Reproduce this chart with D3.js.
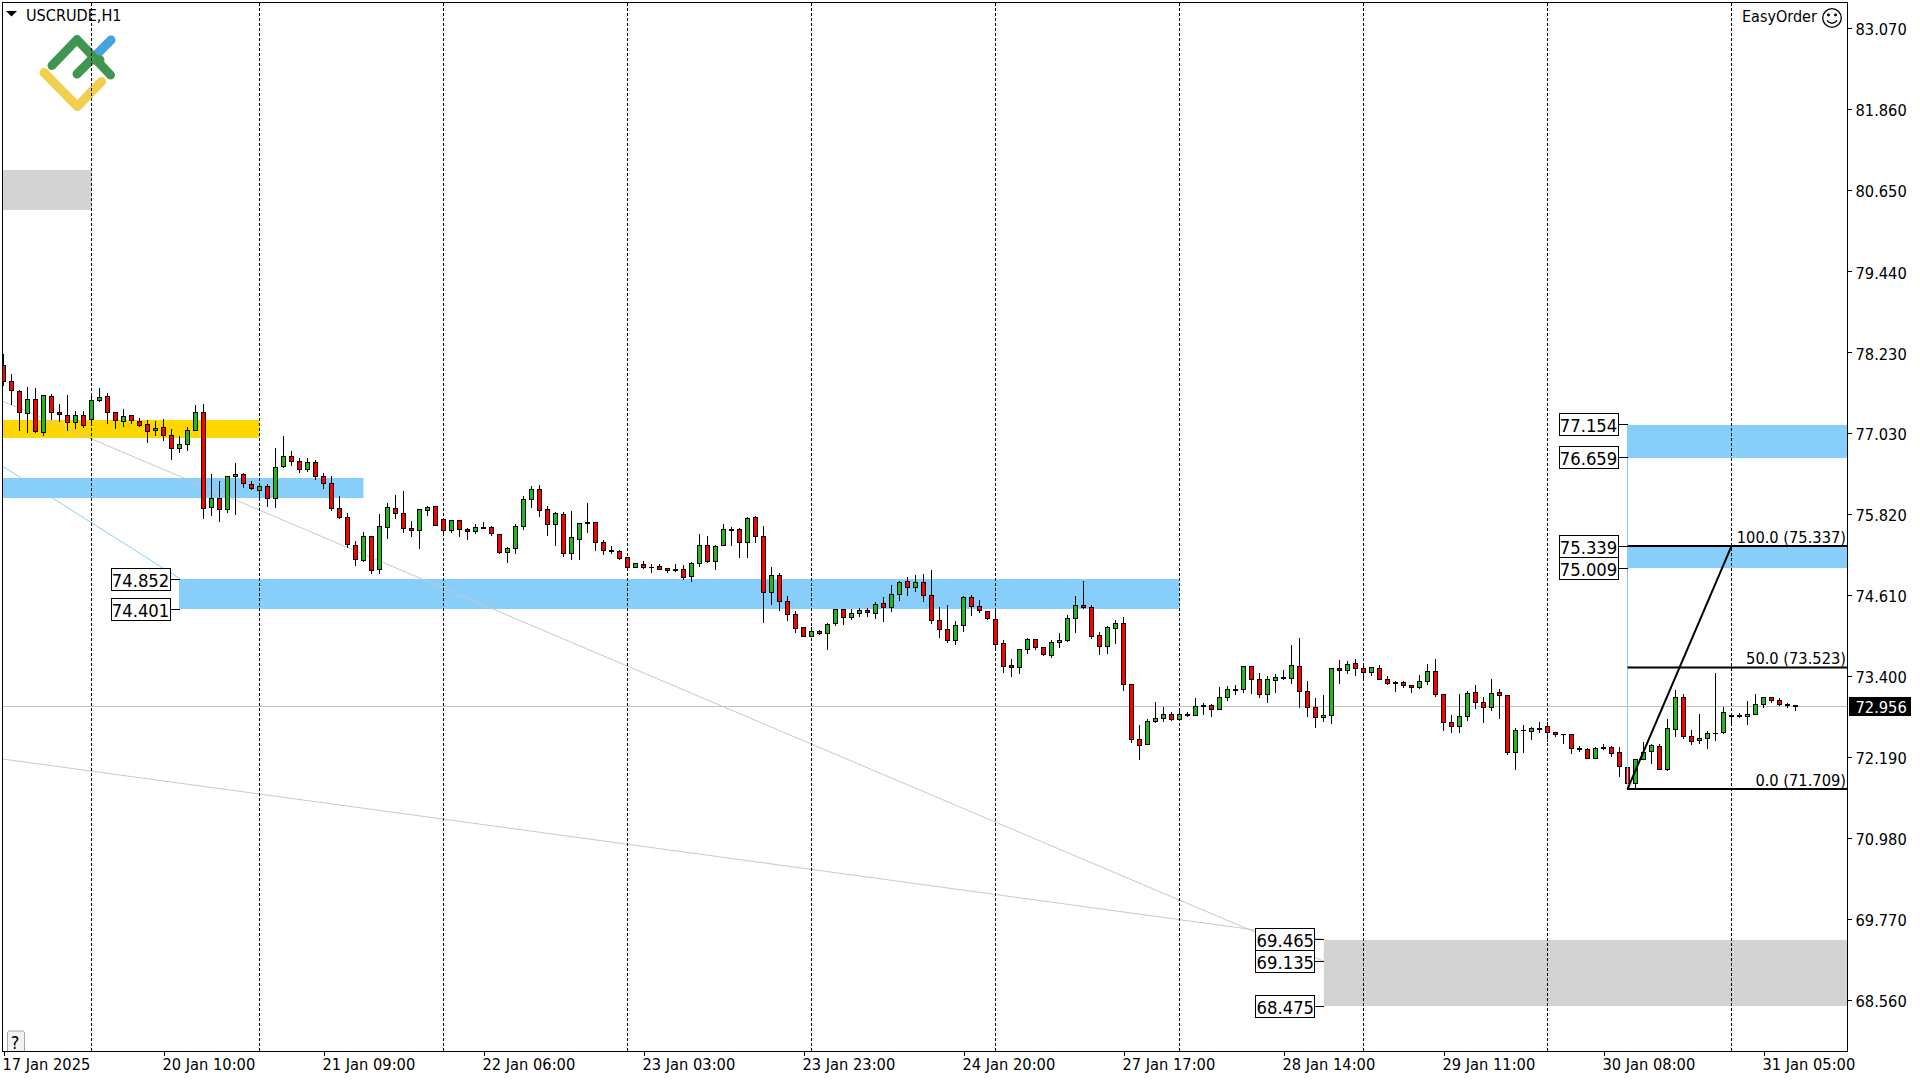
<!DOCTYPE html>
<html><head><meta charset="utf-8">
<script src="https://cdn.jsdelivr.net/npm/d3@7"></script>
<style>
html,body{margin:0;padding:0;background:#fff;overflow:hidden}
svg{display:block}
text{font-family:"DejaVu Sans Condensed","DejaVu Sans",sans-serif;font-stretch:condensed;fill:#000}
.tick text{font-family:"DejaVu Sans Condensed","DejaVu Sans",sans-serif}
</style></head><body>
<svg id="c" width="1920" height="1080"></svg>
<script>
const opens=[78.035,77.796,77.647,77.319,77.527,77.045,77.572,77.333,77.289,77.184,
77.289,77.229,77.512,77.572,77.333,77.199,77.289,77.199,77.154,77.065,
77.110,76.990,76.796,76.856,77.065,77.333,75.916,76.050,75.886,76.378,
76.408,76.259,76.169,76.229,76.050,76.527,76.677,76.602,76.483,76.587,
76.378,76.274,75.901,75.766,75.348,75.125,75.483,74.990,75.617,75.901,
75.826,75.602,75.573,75.881,75.931,75.737,75.573,75.722,75.597,75.558,
75.617,75.617,75.513,75.254,75.304,75.632,76.035,76.184,75.886,75.662,
75.811,75.229,75.438,75.692,75.692,75.393,75.274,75.259,75.170,75.020,
75.065,75.030,75.035,75.005,74.990,74.990,74.886,75.080,75.349,75.110,
75.349,75.587,75.587,75.393,75.767,75.483,74.647,74.901,74.513,74.319,
74.125,74.000,74.065,74.035,74.184,74.393,74.274,74.334,74.378,74.334,
74.483,74.423,74.617,74.811,74.722,74.796,74.602,74.229,74.095,73.941,
74.155,74.573,74.438,74.364,74.244,73.886,73.558,73.528,73.796,73.946,
73.826,73.707,73.901,73.931,74.259,74.453,74.423,74.005,73.841,74.110,
74.184,73.274,72.453,72.379,72.722,72.767,72.826,72.752,72.826,72.821,
72.960,72.960,72.901,73.080,73.199,73.199,73.542,73.348,73.125,73.333,
73.378,73.363,73.542,73.169,72.931,72.781,72.811,73.513,73.483,73.587,
73.513,73.453,73.513,73.348,73.304,73.304,73.259,73.229,73.319,73.468,
73.125,72.707,72.647,72.796,73.154,73.005,72.931,73.154,73.110,72.259,
72.592,72.572,72.617,72.647,72.557,72.532,72.527,72.318,72.304,72.169,
72.334,72.334,72.260,72.036,71.797,72.155,72.275,72.349,72.006,72.603,
73.081,72.498,72.439,72.469,72.548,72.558,72.812,72.812,72.797,72.827,
72.976,73.081,73.036,72.976,72.961];
const closes=[77.796,77.662,77.333,77.527,77.060,77.587,77.333,77.304,77.184,77.289,
77.149,77.512,77.557,77.333,77.214,77.274,77.214,77.149,77.050,77.095,
76.990,76.796,76.856,77.065,77.333,75.901,76.050,75.886,76.378,76.408,
76.274,76.199,76.229,76.050,76.513,76.677,76.602,76.483,76.587,76.378,
76.274,75.901,75.766,75.363,75.139,75.483,74.975,75.632,75.916,75.826,
75.602,75.573,75.886,75.916,75.647,75.573,75.722,75.597,75.558,75.617,
75.612,75.528,75.254,75.304,75.632,76.035,76.184,75.881,75.662,75.826,
75.229,75.468,75.677,75.682,75.393,75.274,75.259,75.155,75.020,75.080,
75.020,75.020,74.990,74.975,74.975,74.871,75.080,75.349,75.110,75.334,
75.587,75.573,75.393,75.752,75.483,74.647,74.901,74.513,74.319,74.120,
74.000,74.065,74.035,74.170,74.393,74.274,74.334,74.378,74.349,74.468,
74.423,74.617,74.796,74.722,74.796,74.602,74.229,74.095,73.941,74.155,
74.573,74.438,74.378,74.269,73.881,73.553,73.528,73.796,73.946,73.826,
73.722,73.901,73.931,74.259,74.453,74.423,73.990,73.841,74.125,74.184,
73.274,72.453,72.364,72.722,72.767,72.826,72.752,72.826,72.821,72.945,
72.945,72.901,73.080,73.199,73.194,73.542,73.348,73.125,73.348,73.378,
73.363,73.557,73.169,72.931,72.781,72.811,73.513,73.483,73.572,73.513,
73.453,73.527,73.348,73.289,73.289,73.259,73.229,73.319,73.468,73.125,
72.707,72.647,72.796,73.140,73.005,72.931,73.140,73.110,72.259,72.587,
72.587,72.617,72.602,72.557,72.527,72.527,72.318,72.304,72.169,72.318,
72.319,72.240,72.051,71.797,72.155,72.260,72.364,72.006,72.618,73.081,
72.498,72.424,72.469,72.543,72.543,72.857,72.797,72.797,72.827,72.976,
73.081,73.036,72.976,72.971,72.951];
const highs=[78.214,77.916,77.677,77.726,77.707,77.602,77.617,77.468,77.602,77.368,
77.368,77.632,77.707,77.632,77.348,77.393,77.304,77.259,77.229,77.219,
77.244,77.095,76.990,77.124,77.453,77.468,76.423,76.323,76.378,76.592,
76.438,76.323,76.264,76.274,76.811,76.995,76.766,76.662,76.662,76.632,
76.438,76.393,76.095,75.841,75.423,75.557,75.483,75.831,75.990,76.110,
76.174,75.727,75.901,75.946,75.946,75.742,75.722,75.737,75.617,75.677,
75.707,75.647,75.513,75.344,75.677,76.095,76.249,76.264,75.946,75.856,
75.856,75.871,75.692,75.990,75.692,75.438,75.349,75.289,75.180,75.080,
75.125,75.080,75.080,75.015,75.080,75.065,75.110,75.528,75.498,75.364,
75.677,75.632,75.617,75.781,75.796,75.647,75.035,74.946,74.602,74.378,
74.125,74.140,74.095,74.199,74.393,74.393,74.408,74.423,74.423,74.513,
74.587,74.767,74.826,74.886,74.921,74.936,74.995,74.438,74.468,74.229,
74.602,74.617,74.543,74.378,74.383,73.946,73.662,73.811,73.975,73.946,
73.841,73.946,74.050,74.319,74.602,74.826,74.468,74.065,74.155,74.244,
74.289,73.289,72.677,72.767,73.020,72.946,72.871,72.916,72.871,73.080,
73.005,72.990,73.244,73.259,73.274,73.557,73.557,73.453,73.408,73.438,
73.498,73.876,73.975,73.333,73.080,73.125,73.527,73.647,73.632,73.662,
73.602,73.527,73.572,73.408,73.333,73.333,73.274,73.423,73.587,73.662,
73.125,72.826,73.140,73.184,73.274,73.095,73.363,73.214,73.125,72.632,
72.677,72.647,72.722,72.722,72.572,72.542,72.527,72.363,72.333,72.348,
72.394,72.364,72.354,72.096,72.155,72.429,72.394,72.394,72.772,73.205,
73.145,72.608,72.847,72.593,73.454,72.951,72.857,72.857,73.041,73.145,
73.085,73.100,73.085,73.006,72.966];
const lows=[77.741,77.458,77.070,77.045,77.045,77.000,77.234,77.209,77.070,77.100,
77.115,77.169,77.508,77.174,77.100,77.129,77.179,77.134,76.896,76.995,
76.921,76.642,76.746,76.776,77.065,75.761,75.806,75.717,75.851,75.821,
76.224,76.194,76.065,75.940,75.926,76.523,76.552,76.438,76.463,76.333,
76.209,75.871,75.761,75.328,75.060,75.110,74.930,74.930,75.463,75.761,
75.553,75.493,75.314,75.806,75.647,75.528,75.543,75.493,75.448,75.533,
75.602,75.498,75.229,75.105,75.239,75.597,75.926,75.791,75.508,75.359,
75.194,75.150,75.150,75.553,75.279,75.224,75.239,75.140,74.990,75.020,
75.005,74.956,74.990,74.956,74.961,74.851,74.821,75.045,75.105,75.000,
75.349,75.359,75.180,75.180,75.403,74.209,74.478,74.378,74.229,74.060,
74.000,74.000,74.030,73.806,74.165,74.180,74.254,74.299,74.299,74.269,
74.224,74.374,74.533,74.612,74.672,74.523,74.194,73.986,73.911,73.881,
74.075,74.314,74.359,74.254,73.836,73.463,73.403,73.448,73.747,73.806,
73.707,73.677,73.836,73.926,74.060,74.418,73.971,73.732,73.747,73.896,
73.185,72.418,72.165,72.379,72.707,72.732,72.737,72.742,72.801,72.821,
72.836,72.806,72.901,73.045,73.134,73.154,73.149,73.080,73.015,73.164,
73.358,73.289,72.940,72.806,72.642,72.731,72.702,73.299,73.448,73.418,
73.388,73.418,73.348,73.284,73.179,73.239,73.164,73.214,73.274,73.105,
72.597,72.567,72.567,72.746,72.926,72.717,72.896,72.776,72.239,72.015,
72.269,72.463,72.567,72.423,72.498,72.403,72.254,72.284,72.169,72.169,
72.304,72.195,71.911,71.707,71.722,72.155,72.096,72.006,71.991,72.503,
72.469,72.379,72.394,72.319,72.439,72.543,72.668,72.782,72.683,72.822,
72.936,73.016,72.966,72.931,72.896];

const priceTicks=[83.07,81.86,80.65,79.44,78.23,77.03,75.82,74.61,73.40,72.19,70.98,69.77,68.56];
const timeTickBars=[0,20,40,60,80,100,120,140,160,180,200,220];
const timeTickLabels=["17 Jan 2025","20 Jan 10:00","21 Jan 09:00","22 Jan 06:00","23 Jan 03:00","23 Jan 23:00","24 Jan 20:00","27 Jan 17:00","28 Jan 14:00","29 Jan 11:00","30 Jan 08:00","31 Jan 05:00"];
const separatorBars=[11,32,55,78,101,124,147,170,193,216];
const lastPrice=72.956;
// zones: [startBar, endBar, highPrice, lowPrice]  (null end = right edge; null start = left edge)
const blueZones=[[null,45,76.353,76.060],[22,147,74.852,74.401],[203,null,77.154,76.659],[203,null,75.339,75.009]];
const yellowZones=[[null,32,77.219,76.955]];
const grayZones=[[null,11,80.951,80.354],[165.1,null,69.465,68.475]];
// boxed price labels: [value, right-edge bar, zone-start bar]
const boxedLabels=[[74.852,22],[74.401,22],[77.154,203],[76.659,203],[75.339,203],[75.009,203],[69.465,165.1],[69.135,165.1],[68.475,165.1]];
// trend lines: [bar1, price1, bar2, price2, colour]
const trendLines=[[-0.2,77.503,165.1,69.135,"#c8c8c8"],[-0.2,72.159,165.1,69.465,"#c8c8c8"],[-0.2,76.533,22,74.852,"#87cefa"]];
const fiboStartBar=203, fiboEndBar=216;
const fiboLevels=[[100,75.337],[50,73.523],[0,71.709]];

const L=2.5,R=1847.5,T=2.5,B=1051.5;
const x=d3.scaleLinear().domain([0,224]).range([3.5,1795.5]);
const y=d3.scaleLinear().domain([83.07,68.56]).range([28,1000]);
const py=v=>Math.round(y(v))+0.5;
const zy=v=>Math.ceil(y(v)-0.1);
const svg=d3.select("#c");
const defs=svg.append("defs");
defs.append("clipPath").attr("id","plot").append("rect").attr("x",L).attr("y",T).attr("width",R-L).attr("height",B-T);
const plot=svg.append("g").attr("clip-path","url(#plot)");

function zones(arr,col){
  plot.append("g").selectAll("rect").data(arr).join("rect")
   .attr("x",d=>d[0]==null?L:x(d[0])-0.5)
   .attr("width",d=>(d[1]==null?R:x(d[1]))-(d[0]==null?L:x(d[0])-0.5))
   .attr("y",d=>zy(d[2]))
   .attr("height",d=>zy(d[3])-zy(d[2]))
   .attr("fill",col);
}
zones(blueZones,"#87cefa");zones(yellowZones,"#ffd700");zones(grayZones,"#d3d3d3");

plot.append("g").selectAll("line").data(trendLines).join("line")
 .attr("x1",d=>x(d[0])).attr("y1",d=>y(d[1])).attr("x2",d=>x(d[2])).attr("y2",d=>y(d[3]))
 .attr("stroke",d=>d[4]).attr("stroke-width",1);

// logo
const logo=plot.append("g").attr("fill","none").attr("stroke-linecap","round").attr("stroke-linejoin","round").attr("stroke-width",9);
logo.append("path").attr("d","M96,55L111,40").attr("stroke","#45a2de");
logo.append("path").attr("d","M52,65.5L77,39.5L110.5,75").attr("stroke","#409650");
logo.append("path").attr("d","M77,74L91,60L100,60").attr("stroke","#409650");
logo.append("path").attr("d","M44,72.5L77.3,106.5L101.5,81.5").attr("stroke","#f2cf4f");

// separators
plot.append("g").selectAll("line").data(separatorBars).join("line")
 .attr("x1",d=>x(d)).attr("x2",d=>x(d)).attr("y1",T).attr("y2",B)
 .attr("stroke","#000").attr("stroke-width",1).attr("stroke-dasharray","3 2").attr("shape-rendering","crispEdges");

// last price line
plot.append("line").attr("x1",L).attr("x2",R).attr("y1",py(lastPrice)).attr("y2",py(lastPrice)).attr("stroke","#c0c0c0").attr("stroke-width",1).attr("shape-rendering","crispEdges");

// candles
const idx=d3.range(opens.length);
const cg=plot.append("g").attr("shape-rendering","crispEdges");
cg.selectAll("line").data(idx).join("line")
 .attr("x1",i=>x(i)).attr("x2",i=>x(i)).attr("y1",i=>py(highs[i])).attr("y2",i=>py(lows[i]))
 .attr("stroke","#000").attr("stroke-width",1);
cg.selectAll("rect").data(idx).join("rect")
 .attr("x",i=>x(i)-2).attr("width",4)
 .attr("y",i=>py(Math.max(opens[i],closes[i])))
 .attr("height",i=>Math.max(0.01,py(Math.min(opens[i],closes[i]))-py(Math.max(opens[i],closes[i]))))
 .attr("fill",i=>closes[i]>opens[i]?"#22b822":"#ff0000")
 .attr("stroke","#000").attr("stroke-width",1);

// fibo
plot.append("line").attr("x1",x(fiboStartBar)).attr("x2",x(fiboStartBar)).attr("y1",y(77.154)).attr("y2",y(71.709)).attr("stroke","#87cefa").attr("stroke-width",1).attr("shape-rendering","crispEdges");
plot.append("g").selectAll("line").data(fiboLevels).join("line")
 .attr("x1",x(fiboStartBar)).attr("x2",R).attr("y1",d=>y(d[1])).attr("y2",d=>y(d[1]))
 .attr("stroke","#000").attr("stroke-width",2);
plot.append("line").attr("x1",x(fiboStartBar)).attr("y1",y(71.709)).attr("x2",x(fiboEndBar)).attr("y2",y(75.337)).attr("stroke","#000").attr("stroke-width",2);
svg.append("g").selectAll("text").data(fiboLevels).join("text")
 .attr("x",1846).attr("y",d=>y(d[1])-9).attr("text-anchor","end").attr("dominant-baseline","central")
 .attr("font-size",16.3).text(d=>d[0].toFixed(1)+" ("+d[1].toFixed(3)+")");

// boxed labels
const lb=svg.append("g").selectAll("g").data(boxedLabels).join("g");
lb.append("line").attr("x1",d=>x(d[1])-10).attr("x2",d=>x(d[1])).attr("y1",d=>py(d[0])).attr("y2",d=>py(d[0])).attr("stroke","#000").attr("stroke-width",1).attr("shape-rendering","crispEdges");
lb.append("rect").attr("x",d=>x(d[1])-68.5).attr("y",d=>py(d[0])-11).attr("width",59).attr("height",22).attr("fill","#fff").attr("stroke","#000").attr("stroke-width",1).attr("shape-rendering","crispEdges");
lb.append("text").attr("x",d=>x(d[1])-39).attr("y",d=>py(d[0])+0.5).attr("text-anchor","middle").attr("dominant-baseline","central").attr("font-size",18.3).text(d=>d[0].toFixed(3));

// frame
svg.append("rect").attr("x",L).attr("y",T).attr("width",R-L).attr("height",B-T).attr("fill","none").attr("stroke","#000").attr("stroke-width",1).attr("shape-rendering","crispEdges");

// axes
const ya=svg.append("g").attr("transform",`translate(${R},0)`).call(d3.axisRight(y).tickValues(priceTicks).tickFormat(d3.format(".3f")).tickSize(4).tickPadding(4));
ya.select(".domain").remove();
ya.selectAll("text").attr("font-size",16.3).attr("fill","#000").attr("dy","0.42em");
ya.selectAll("line").attr("stroke","#000").attr("shape-rendering","crispEdges");
const xa=svg.append("g").attr("transform",`translate(0,${B})`).call(d3.axisBottom(x).tickValues(timeTickBars).tickFormat((d,i)=>timeTickLabels[i]).tickSize(4).tickPadding(3));
xa.select(".domain").remove();
xa.selectAll("text").attr("font-size",16.3).attr("fill","#000").attr("text-anchor","start").attr("dx",-1.5);
xa.selectAll("line").attr("stroke","#000").attr("shape-rendering","crispEdges");

// last price tag
svg.append("rect").attr("x",1849).attr("y",py(lastPrice)-9.5).attr("width",62).attr("height",19).attr("fill","#000");
svg.append("text").attr("x",1855.5).attr("y",py(lastPrice)+1).attr("dominant-baseline","central").attr("font-size",16.3).style("fill","#fff").text(lastPrice.toFixed(3));

// header
svg.append("path").attr("d","M6,11L17,11L11.5,16.5Z").attr("fill","#000");
svg.append("text").attr("x",26).attr("y",15.5).attr("dominant-baseline","central").attr("font-size",16.1).text("USCRUDE,H1");
svg.append("text").attr("x",1742).attr("y",16.5).attr("dominant-baseline","central").attr("font-size",16).text("EasyOrder");
const sm=svg.append("g").attr("fill","none").attr("stroke","#000").attr("stroke-width",1.3);
sm.append("circle").attr("cx",1832).attr("cy",18).attr("r",9.3);
sm.append("path").attr("d","M1827,20.5Q1832,26 1837,20.5");
sm.append("circle").attr("cx",1828.5).attr("cy",15).attr("r",0.8).attr("fill","#000");
sm.append("circle").attr("cx",1835.5).attr("cy",15).attr("r",0.8).attr("fill","#000");

// help button
svg.append("path").attr("d","M7.5,1051V1033Q7.5,1031 9.5,1031H22.5Q24.5,1031 24.5,1033V1051").attr("fill","#f2f2f2").attr("stroke","#a8a8a8");
svg.append("text").attr("x",15).attr("y",1042).attr("text-anchor","middle").attr("dominant-baseline","central").attr("font-size",18).text("?");
</script></body></html>
